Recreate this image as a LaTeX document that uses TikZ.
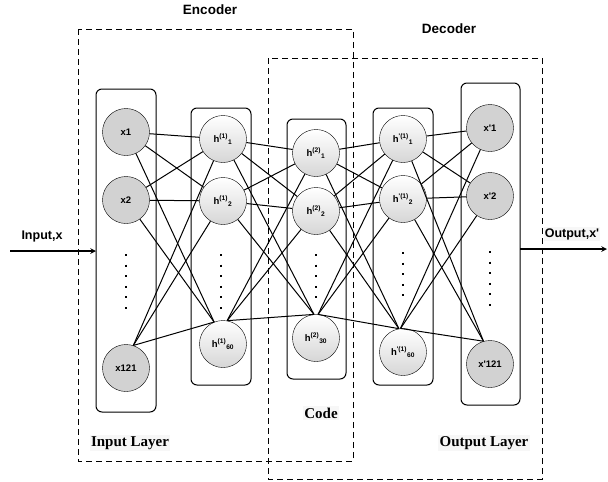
\documentclass[tikz,border=0pt]{standalone}
\usepackage{fontspec}
\usepackage{xcolor}
\usetikzlibrary{shapes, arrows}
\newfontfamily\sansfont{Liberation Sans}
\newfontfamily\seriffont{Liberation Serif}
\newcommand{\nodefont}{\sansfont\bfseries\fontsize{9.5}{11}\selectfont}

\begin{document}
\begin{tikzpicture}[x=1pt, y=-1pt, node distance=68pt, auto]

\tikzstyle{inout} = [circle, draw=black, fill=gray!35, minimum size=47pt, inner sep=0pt, font=\nodefont]
\tikzstyle{hidden} = [circle, draw=black, top color=white, bottom color=gray!32, minimum size=47pt, inner sep=0pt, font=\nodefont]
\tikzstyle{layer} = [rounded corners=6pt, draw=black, line width=1pt]
\tikzstyle{group} = [line width=1pt, dash pattern=on 6pt off 4pt]
\tikzstyle{link} = [line width=1pt]
\tikzstyle{arrow} = [line width=1.5pt, ->, >=stealth]
\tikzstyle{dots} = [line width=2pt, dash pattern=on 2pt off 8.6pt]
\tikzstyle{title} = [font=\sansfont\bfseries\fontsize{13.5}{15}\selectfont]
\tikzstyle{caption} = [fill=gray!6, inner sep=1.5pt, font=\seriffont\bfseries\fontsize{15}{17}\selectfont]
\tikzstyle{io} = [font=\sansfont\bfseries\fontsize{12.5}{14}\selectfont]

\useasboundingbox (0,0) rectangle (608,482);

\draw [group] (78,29) rectangle (353,461);
\draw [group] (268,58) rectangle (542,479);
\node (enc) [title] at (210,10) {Encoder};
\node (dec) [title] at (449,29) {Decoder};

\draw [layer] (96,89) rectangle (156,412);
\draw [layer] (191,108) rectangle (251,385);
\draw [layer] (287,119) rectangle (346,379);
\draw [layer] (373,108) rectangle (433,385);
\draw [layer] (461,83) rectangle (520,405);

\node (x1) [inout] at (126,132) {x1};
\node (x2) [inout, below of=x1] {x2};
\node (x121) [inout, below of=x2, node distance=168pt] {x121};

\node (ha1) [hidden] at (223,139) {h\textsuperscript{(1)}\textsubscript{1}};
\node (ha2) [hidden, below of=ha1, node distance=62pt] {h\textsuperscript{(1)}\textsubscript{2}};
\node (ha60) [hidden, below of=ha2, node distance=143pt] {h\textsuperscript{(1)}\textsubscript{60}};

\node (hb1) [hidden] at (316,153) {h\textsuperscript{(2)}\textsubscript{1}};
\node (hb2) [hidden, below of=hb1, node distance=58pt] {h\textsuperscript{(2)}\textsubscript{2}};
\node (hb30) [hidden, below of=hb2, node distance=127pt] {h\textsuperscript{(2)}\textsubscript{30}};

\node (hc1) [hidden] at (403,139) {h\textsuperscript{'(1)}\textsubscript{1}};
\node (hc2) [hidden, below of=hc1, node distance=60pt] {h\textsuperscript{'(1)}\textsubscript{2}};
\node (hc60) [hidden, below of=hc2, node distance=153pt] {h\textsuperscript{'(1)}\textsubscript{60}};

\node (y1) [inout] at (490,128) {x'1};
\node (y2) [inout, below of=y1] {x'2};
\node (y121) [inout, below of=y2, node distance=168pt] {x'121};

\foreach \a in {x1,x2,x121.72}
  \foreach \b in {ha1,ha2,ha60.112}
    \draw [link] (\a) -- (\b);
\foreach \a in {ha1,ha2,ha60.80}
  \foreach \b in {hb1,hb2,hb30.95}
    \draw [link] (\a) -- (\b);
\foreach \a in {hb1,hb2,hb30.85}
  \foreach \b in {hc1,hc2,hc60.100}
    \draw [link] (\a) -- (\b);
\foreach \a in {hc1,hc2,hc60.96}
  \foreach \b in {y1,y2,y121.106}
    \draw [link] (\a) -- (\b);

\draw [dots] (126,254) -- (126,312);
\draw [dots] (221,254) -- (221,312);
\draw [dots] (316,254) -- (316,302);
\draw [dots] (403,252) -- (403,300);
\draw [dots] (490,251) -- (490,309);

\coordinate (inS) at (10,251);
\coordinate (inE) at (96,251);
\draw [arrow] (inS) -- (inE);
\node (inlbl) [io] at (42,236) {Input,x};

\coordinate (outS) at (520,249);
\coordinate (outE) at (607,249);
\draw [arrow] (outS) -- (outE);
\node (outlbl) [io, fill=gray!6, inner sep=1pt] at (572,234) {Output,x'};

\node (inlay) [caption] at (130,443) {Input Layer};
\node (code) [caption] at (321,413) {Code};
\node (outlay) [caption] at (484,443) {Output Layer};
\end{tikzpicture}
\end{document}
